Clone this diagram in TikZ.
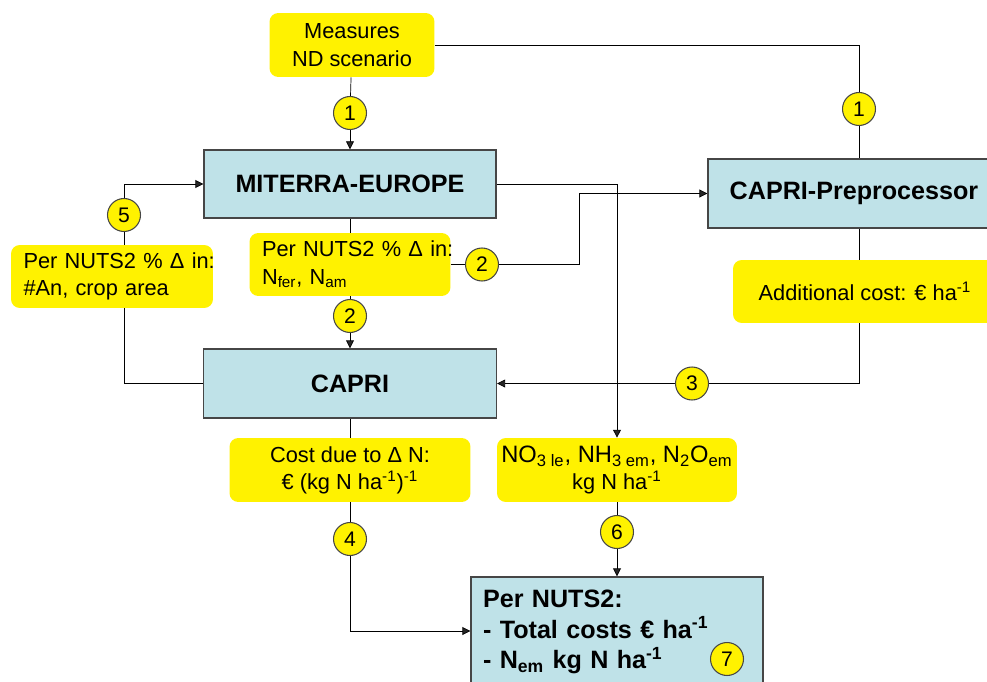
\documentclass[tikz,border=0pt]{standalone}
\usepackage{fontspec}
\setmainfont{Liberation Sans}
\usetikzlibrary{arrows.meta,backgrounds}
\definecolor{boxblue}{RGB}{191,226,232}
\definecolor{boxedge}{RGB}{70,70,70}

\begin{document}
\begin{tikzpicture}[x=0.02cm,y=-0.02cm,
  model/.style={draw=boxedge,line width=0.8pt,fill=boxblue,inner sep=0pt,
    font=\fontsize{14.3}{17.5}\selectfont\bfseries},
  note/.style={fill=yellow,rounded corners=5pt,inner sep=0pt,align=center,
    font=\fontsize{12.4}{15.5}\selectfont},
  num/.style={circle,draw=boxedge,line width=0.6pt,fill=yellow,minimum size=0.66cm,
    inner sep=0pt,font=\fontsize{12}{12}\selectfont},
  link/.style={line width=1.3pt,draw=black!85},
  >={Triangle[length=4.5pt,width=4.5pt]}]
\useasboundingbox (0,0) rectangle (987,682);

% boxes
\node[note,minimum width=3.3cm,minimum height=1.28cm] (meas) at (352,45) {Measures\\ND scenario};
\node[model,minimum width=5.84cm,minimum height=1.36cm] (mit) at (350,184) {MITERRA-EUROPE};
\node[model,minimum width=5.84cm,minimum height=1.38cm] (pre) at (854,193.5) {CAPRI-Preprocessor};
\node[note,align=left,text width=3.52cm,inner xsep=0.25cm,minimum height=1.26cm] (mid) at (350,264.5)
  {\mbox{Per NUTS2 \% Δ in:}\\N\textsubscript{fer}, N\textsubscript{am}};
\node[note,align=left,text width=3.54cm,inner xsep=0.25cm,minimum height=1.26cm] (nutsl) at (112,276.5)
  {\mbox{Per NUTS2 \% Δ in:}\\\#An, crop area};
\node[note,minimum width=5.28cm,minimum height=1.26cm] (addc) at (865,291.5) {Additional cost: € ha\textsuperscript{-1}};
\node[model,minimum width=5.86cm,minimum height=1.38cm] (capri) at (350,383.5) {CAPRI};
\node[note,minimum width=4.82cm,minimum height=1.28cm] (cost) at (350,470)
  {Cost due to Δ N:\\€ (kg N ha\textsuperscript{-1})\textsuperscript{-1}};
\node[note,minimum width=4.8cm,minimum height=1.28cm] (nox) at (617,470)
  {{\fontsize{13.5}{15.5}\selectfont NO\textsubscript{3 le}, NH\textsubscript{3 em}, N\textsubscript{2}O\textsubscript{em}}\\kg N ha\textsuperscript{-1}};
\node[model,align=left,text width=5.36cm,inner xsep=0.24cm,minimum height=2.2cm] (tot) at (617,632)
  {Per NUTS2:\\- Total costs € ha\textsuperscript{-1}\\- N\textsubscript{em} kg N ha\textsuperscript{-1}};

% step numbers
\node[num] (c1a) at (350,113) {1};
\node[num] (c1b) at (859,109) {1};
\node[num] (c2a) at (350,316) {2};
\node[num] (c2b) at (482,264.5) {2};
\node[num] (c3) at (692,383.5) {3};
\node[num] (c4) at (350,539) {4};
\node[num] (c5) at (124,215) {5};
\node[num] (c6) at (617,532) {6};
\node[num] (c7) at (727,659) {7};
\coordinate (k1) at (579,264.5);

\begin{scope}[on background layer,link]
\draw (meas) -- (c1a);
\draw[->] (c1a) -- (mit);
\draw (meas.east) -| (c1b);
\draw (c1b) -- (c1b |- pre.north);
\draw (mit) -- (mid);
\draw (mid) -- (c2a);
\draw[->] (c2a) -- (capri);
\draw (mid) -- (c2b);
\draw[->] (c2b) -- (k1) |- (pre.west);
\draw[->] (mit.east) -| (nox.north);
\draw (c1b |- pre.south) -- (c1b |- addc.north);
\draw (c1b |- addc.south) |- (c3);
\draw[->] (c3) -- (capri);
\draw (capri.west) -| (c5);
\draw[->] (c5) |- (mit.west);
\draw (capri) -- (cost);
\draw (cost) -- (c4);
\draw[->] (c4) |- ([yshift=0.02cm]tot.west);
\draw (nox) -- (c6);
\draw[->] (c6) -- (tot);
\end{scope}
\end{tikzpicture}
\end{document}
